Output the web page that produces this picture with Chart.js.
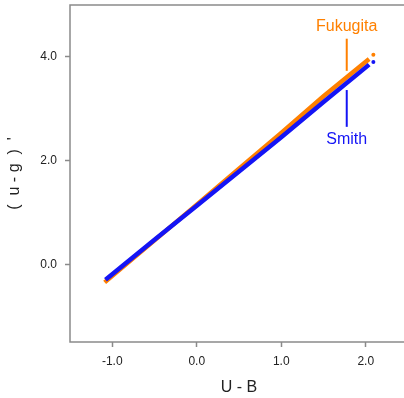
<!DOCTYPE html>
<html>
<head>
<meta charset="utf-8">
<script src="https://cdn.jsdelivr.net/npm/chart.js@4/dist/chart.umd.min.js"></script>
<style>
  html, body { margin: 0; padding: 0; background: #fff; overflow: hidden; }
  #grafico { display: block; }
</style>
</head>
<body>
<canvas id="grafico" width="420" height="398"></canvas>
<script>
// U - B values and (u - g)' values
const fukugitaX = [-1.09, -0.5, 0.0, 0.5, 1.0, 1.5, 2.04];
const fukugitaY = [-0.35, 0.46, 1.15, 1.84, 2.53, 3.24, 3.96];
const smithX = [-1.08, -0.5, 0.0, 0.5, 1.0, 1.5, 2.04];
const smithY = [-0.30, 0.47, 1.13, 1.79, 2.45, 3.13, 3.85];
// stray points at the red end
const fukugitaExtraX = [2.09];
const fukugitaExtraY = [4.04];
const smithExtraX = [2.09];
const smithExtraY = [3.90];

const xTicks = [-1, 0, 1, 2];
const yTicks = [0, 2, 4];

const laranja = '#FF8000';
const azul = '#1414F5';
const fonte = "'Liberation Sans', Arial, sans-serif";

const pares = (xs, ys) => xs.map((x, i) => ({ x, y: ys[i] }));

// moldura em volta da area do grafico
const moldura = {
  id: 'moldura',
  beforeDatasetsDraw(chart) {
    const { ctx, chartArea: a } = chart;
    ctx.save();
    ctx.strokeStyle = '#8a8a8a';
    ctx.lineWidth = 1.5;
    ctx.strokeRect(a.left, a.top, a.right - a.left, a.bottom - a.top);
    ctx.restore();
  }
};

// rotulos Fukugita / Smith com linhas
const rotulos = {
  id: 'rotulos',
  afterDatasetsDraw(chart) {
    const { ctx } = chart;
    const sx = chart.scales.x, sy = chart.scales.y;
    const px = sx.getPixelForValue(1.775);
    ctx.save();
    ctx.font = '16px ' + fonte;
    ctx.textAlign = 'center';
    ctx.textBaseline = 'middle';
    ctx.lineWidth = 2;

    ctx.fillStyle = laranja;
    ctx.fillText('Fukugita', px, sy.getPixelForValue(4.58));
    ctx.strokeStyle = laranja;
    ctx.beginPath();
    ctx.moveTo(px, sy.getPixelForValue(4.35));
    ctx.lineTo(px, sy.getPixelForValue(3.73));
    ctx.stroke();

    ctx.fillStyle = azul;
    ctx.fillText('Smith', px, sy.getPixelForValue(2.40));
    ctx.strokeStyle = azul;
    ctx.beginPath();
    ctx.moveTo(px, sy.getPixelForValue(3.36));
    ctx.lineTo(px, sy.getPixelForValue(2.65));
    ctx.stroke();
    ctx.restore();
  }
};

new Chart(document.getElementById('grafico'), {
  type: 'scatter',
  data: {
    datasets: [
      {
        label: 'Fukugita',
        type: 'line',
        data: pares(fukugitaX, fukugitaY),
        borderColor: laranja,
        borderWidth: 4.5,
        pointRadius: 0,
        fill: false,
        order: 2
      },
      {
        label: 'Fukugita extra',
        data: pares(fukugitaExtraX, fukugitaExtraY),
        backgroundColor: laranja,
        borderWidth: 0,
        pointRadius: 2,
        order: 2
      },
      {
        label: 'Smith',
        type: 'line',
        data: pares(smithX, smithY),
        borderColor: azul,
        borderWidth: 4.5,
        pointRadius: 0,
        fill: false,
        order: 1
      },
      {
        label: 'Smith extra',
        data: pares(smithExtraX, smithExtraY),
        backgroundColor: azul,
        borderWidth: 0,
        pointRadius: 2,
        order: 1
      }
    ]
  },
  options: {
    responsive: false,
    animation: false,
    layout: { padding: { top: 5, right: 12, left: 0, bottom: 0 } },
    scales: {
      x: {
        type: 'linear',
        min: -1.5,
        max: 2.5,
        afterBuildTicks: s => { s.ticks = xTicks.map(v => ({ value: v })); },
        afterFit: s => { s.height = 56; s.paddingLeft = 0; s.paddingRight = 0; },
        border: { display: false },
        grid: { drawOnChartArea: false, drawTicks: true, tickLength: 5, tickColor: '#8a8a8a', tickWidth: 1.5 },
        ticks: {
          padding: 7,
          color: '#222',
          font: { family: fonte, size: 12 },
          callback: v => v.toFixed(1)
        },
        title: {
          display: true,
          text: 'U - B',
          color: '#222',
          font: { family: fonte, size: 16 },
          padding: { top: 0, bottom: 1 }
        }
      },
      y: {
        type: 'linear',
        min: -1.5,
        max: 5.0,
        afterBuildTicks: s => { s.ticks = yTicks.map(v => ({ value: v })); },
        afterFit: s => { s.width = 70; s.paddingTop = 0; s.paddingBottom = 0; },
        border: { display: false },
        grid: { drawOnChartArea: false, drawTicks: true, tickLength: 5, tickColor: '#8a8a8a', tickWidth: 1.5 },
        ticks: {
          padding: 8,
          color: '#222',
          font: { family: fonte, size: 12 },
          callback: v => v.toFixed(1)
        },
        title: {
          display: true,
          text: "(  u - g  )  '",
          color: '#222',
          font: { family: fonte, size: 16 },
          padding: { top: 5, bottom: 0 }
        }
      }
    },
    plugins: {
      legend: { display: false },
      tooltip: { enabled: false }
    }
  },
  plugins: [moldura, rotulos]
});
</script>
</body>
</html>
